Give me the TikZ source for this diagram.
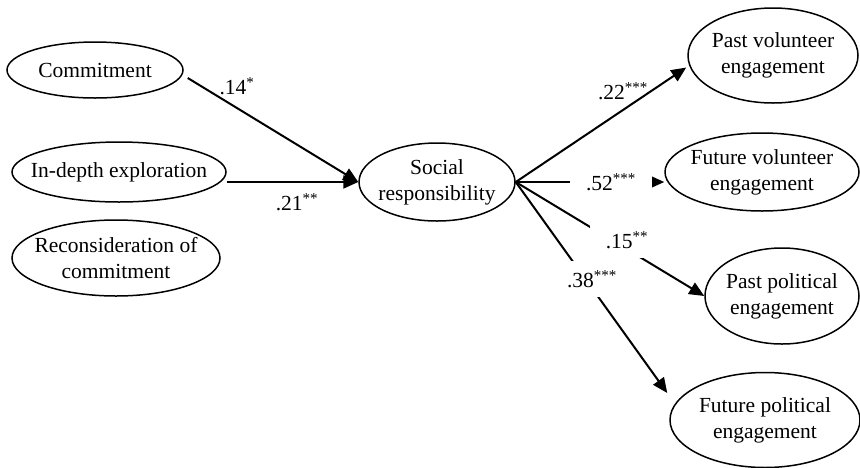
\documentclass[tikz,border=0pt]{standalone}
\usepackage{fontspec}
\setmainfont{Liberation Serif}
\usetikzlibrary{shapes.geometric,arrows.meta}
\begin{document}
\begin{tikzpicture}[x=1pt,y=-1pt,
  var/.style={ellipse,draw,line width=1.5pt,inner sep=0pt},
  vtxt/.style={align=center,inner sep=0pt,font=\fontsize{21.5}{26}\selectfont},
  conn/.style={line width=2pt,-{Triangle[length=15pt,width=13pt]}},
  coef/.style={font=\fontsize{21.5}{26}\selectfont,inner sep=1pt},
  coefw/.style={coef,fill=white,inner xsep=16pt,inner ysep=9pt}]
\useasboundingbox (0,0) rectangle (860,467);
% predictors
\node[var,minimum width=176pt,minimum height=56pt,
  label={[vtxt]center:Commitment}] (com) at (95,70) {};
\node[var,minimum width=214pt,minimum height=60pt,
  label={[vtxt]center:In-depth exploration}] (ide) at (119,172) {};
\node[var,minimum width=208pt,minimum height=76pt,
  label={[vtxt]center:Reconsideration of\\commitment}] (rec) at (116,258) {};
% mediator
\node[var,minimum width=156pt,minimum height=78pt,
  label={[vtxt]center:Social\\responsibility}] (sr) at (437,182) {};
% outcomes
\node[var,minimum width=170pt,minimum height=95pt,
  label={[vtxt]center:Past volunteer\\engagement}] (pv) at (773,55.5) {};
\node[var,minimum width=194pt,minimum height=78pt,
  label={[vtxt]center:Future volunteer\\engagement}] (fv) at (762,172) {};
\node[var,minimum width=154pt,minimum height=96pt,
  label={[vtxt]center:Past political\\engagement}] (pp) at (782,296) {};
\node[var,minimum width=190pt,minimum height=95pt,
  label={[vtxt]center:Future political\\engagement}] (fp) at (765,420) {};
% paths
\draw[conn] ([shift={(4,8)}]com.east) -- (sr.west);
\draw[conn] (ide.east |- sr.west) -- (sr.west);
\draw[conn] (sr.east) -- ([shift={(-1,12)}]pv.west);
\draw[conn] (sr.east) -- (fv.west |- sr.east);
\draw[conn] (sr.east) -- (pp.west);
\draw[conn] (sr.east) -- ([shift={(-2,-27)}]fp.west);
% coefficients
\node[coef] (l14) at (237,86) {.14\textsuperscript{*}};
\node[coef] (l21) at (297,202) {.21\textsuperscript{**}};
\node[coef] (l22) at (623,91) {.22\textsuperscript{***}};
\node[coefw] (l52) at (611,182) {.52\textsuperscript{***}};
\node[coefw] (l15) at (627,240) {.15\textsuperscript{**}};
\node[coefw] (l38) at (592,279) {.38\textsuperscript{***}};
\end{tikzpicture}
\end{document}
